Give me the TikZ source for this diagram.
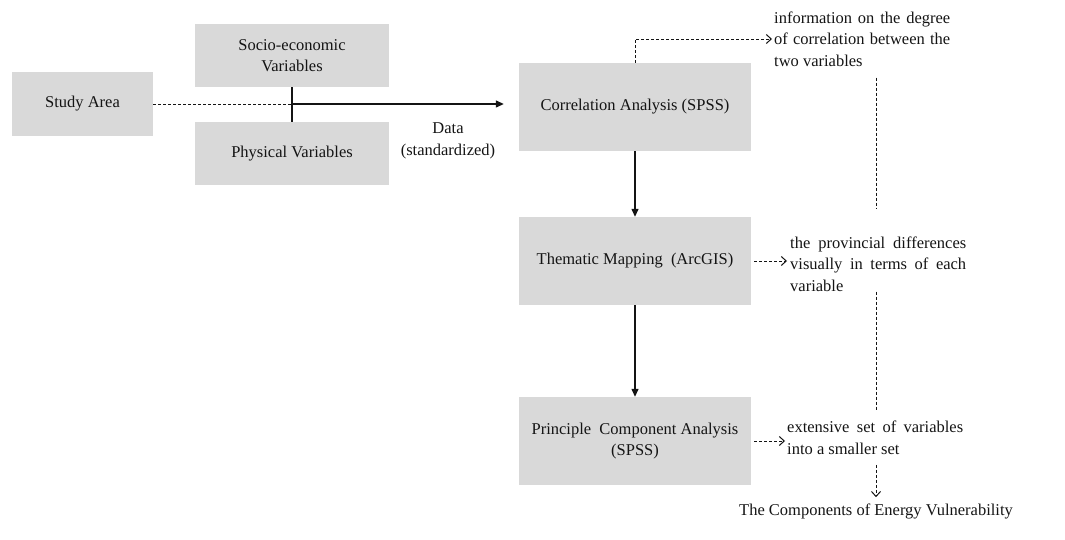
\documentclass[tikz,border=0pt]{standalone}
\usepackage{fontspec}
\setmainfont{Liberation Serif}
\usepackage{tikz}
\usetikzlibrary{arrows.meta}
\definecolor{boxgray}{HTML}{D9D9D9}
\definecolor{inkgray}{HTML}{141414}

\begin{document}
\begin{tikzpicture}[x=1pt,y=-1pt,
    every node/.style={text=inkgray,font=\fontsize{16.5}{21.5}\selectfont,inner sep=0pt},
    box/.style={fill=boxgray,align=center},
    note/.style={anchor=west,text width=176pt,align=justify},
    flow/.style={line width=1.3pt,draw=inkgray,-{Triangle[length=8pt,width=7pt]}},
    hint/.style={line width=0.8pt,draw=inkgray,dash pattern=on 3pt off 2pt},
    hintarrow/.style={hint,-{Straight Barb[length=5pt,width=9pt,line width=1pt]}}]
  \useasboundingbox (0,0) rectangle (1065,540);
  % left part
  \node[box,minimum width=141pt,minimum height=64pt] (study) at (82.5,104) {Study Area};
  \node[box,minimum width=194pt,minimum height=63pt] (socio) at (292,55.5) {Socio-economic\\Variables};
  \node[box,minimum width=194pt,minimum height=63pt] (phys) at (292,153.5) {Physical Variables};
  \node[align=center] (data) at (448,141) {Data\\(standardized)};
  % analysis steps
  \node[box,minimum width=232pt,minimum height=88pt] (corr) at (635,107) {Correlation Analysis (SPSS)};
  \node[box,minimum width=232pt,minimum height=88pt] (them) at (635,261) {Thematic Mapping~ (ArcGIS)};
  \node[box,minimum width=232pt,minimum height=88pt] (pca) at (635,441) {Principle~ Component Analysis\\(SPSS)};
  % results
  \node[note] (info) at (774,39) {information on the degree\linebreak of correlation between the\linebreak two variables};
  \node[note] (prov) at (790,264) {the provincial differences\linebreak visually in terms of each\linebreak variable};
  \node[note] (ext) at (787,438) {extensive set of variables\linebreak into a smaller set};
  \node (final) at (876,511) {The Components of Energy Vulnerability};
  \coordinate (junc) at (socio.south |- study.east);
  \coordinate (vline) at (876,0);

  \draw[line width=1.3pt,draw=inkgray] (socio.south) -- (phys.north);
  \draw[hint] (study.east) -- (junc);
  \draw[flow] (junc) -- (junc -| corr.west) [shorten >=15pt];
  \draw[flow] (corr.south) -- (them.north);
  \draw[flow] (them.south) -- (pca.north);
  \draw[hintarrow,shorten >=2pt] (corr.north) |- (info.west);
  \draw[hintarrow,shorten <=3pt,shorten >=3pt] (them.east) -- (them.east -| prov.west);
  \draw[hintarrow,shorten <=3pt,shorten >=2pt] (pca.east) -- (pca.east -| ext.west);
  \draw[hint,shorten <=11pt,shorten >=27pt] (info.south -| vline) -- (prov.north -| vline);
  \draw[hint,shorten >=10pt] (prov.south -| vline) -- (ext.north -| vline);
  \draw[hintarrow,shorten <=10pt,shorten >=6pt] (ext.south -| vline) -- (final.north);
\end{tikzpicture}
\end{document}
